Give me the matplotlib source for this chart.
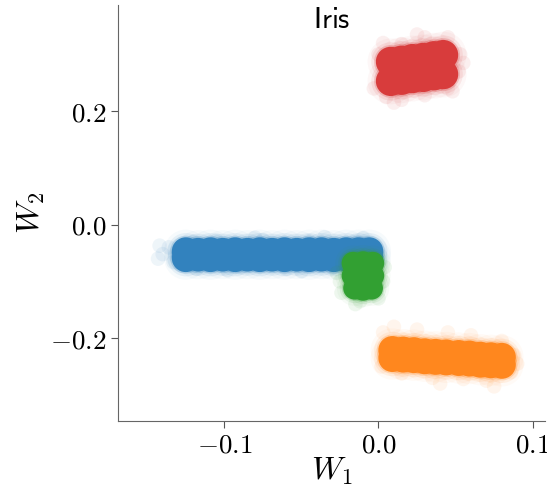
import numpy as np
import matplotlib
matplotlib.use("Agg")
import matplotlib.pyplot as plt
from matplotlib.ticker import FuncFormatter

plt.rcParams['mathtext.fontset'] = 'cm'

# dense part of each class cloud (W1, W2)
blue_core = [(-0.125, -0.047), (-0.117, -0.048), (-0.109, -0.047), (-0.101, -0.048),
             (-0.093, -0.047), (-0.085, -0.048), (-0.077, -0.047), (-0.069, -0.048),
             (-0.061, -0.047), (-0.053, -0.048), (-0.045, -0.047), (-0.037, -0.047),
             (-0.029, -0.048), (-0.021, -0.047), (-0.013, -0.047), (-0.006, -0.047),
             (-0.125, -0.059), (-0.117, -0.058), (-0.109, -0.059), (-0.101, -0.058),
             (-0.093, -0.059), (-0.085, -0.058), (-0.077, -0.059), (-0.069, -0.058),
             (-0.061, -0.059), (-0.053, -0.058), (-0.045, -0.059), (-0.037, -0.058),
             (-0.029, -0.059), (-0.021, -0.058), (-0.013, -0.059), (-0.006, -0.058)]
orange_core = [(0.009, -0.221), (0.016, -0.222), (0.023, -0.223), (0.030, -0.225),
               (0.037, -0.226), (0.044, -0.227), (0.052, -0.228), (0.059, -0.229),
               (0.066, -0.231), (0.073, -0.232), (0.080, -0.233),
               (0.009, -0.235), (0.016, -0.236), (0.023, -0.237), (0.030, -0.239),
               (0.037, -0.240), (0.044, -0.241), (0.052, -0.242), (0.059, -0.243),
               (0.066, -0.245), (0.073, -0.246), (0.080, -0.247)]
green_core = [(-0.0165, -0.068), (-0.0100, -0.067), (-0.0037, -0.068),
              (-0.0165, -0.090), (-0.0100, -0.091), (-0.0037, -0.090),
              (-0.0155, -0.112), (-0.0100, -0.114), (-0.0045, -0.112)]
red_core = [(0.008, 0.287), (0.015, 0.289), (0.022, 0.292), (0.029, 0.294),
            (0.036, 0.297), (0.042, 0.299),
            (0.008, 0.253), (0.015, 0.255), (0.022, 0.258), (0.029, 0.260),
            (0.036, 0.263), (0.042, 0.265)]

# sparse outer points of each cloud
blue_halo = [(-0.142, -0.037), (-0.140, -0.052), (-0.136, -0.040), (-0.133, -0.066),
             (-0.120, -0.030), (-0.105, -0.028), (-0.090, -0.075), (-0.075, -0.027),
             (-0.060, -0.078), (-0.045, -0.029), (-0.030, -0.076), (-0.015, -0.030),
             (-0.002, -0.040), (-0.118, -0.078), (-0.098, -0.080), (-0.050, -0.082),
             (-0.143, -0.060), (-0.128, -0.072), (-0.010, -0.024), (-0.080, -0.023),
             (-0.035, -0.022)]
orange_halo = [(0.003, -0.190), (0.010, -0.180), (0.025, -0.185), (0.045, -0.190),
               (0.060, -0.195), (0.080, -0.205), (0.088, -0.230), (0.086, -0.260),
               (0.070, -0.275), (0.055, -0.272), (0.035, -0.270), (0.015, -0.262),
               (0.002, -0.250), (0.040, -0.280), (0.075, -0.285), (0.090, -0.245)]
green_halo = [(-0.025, -0.100), (-0.024, -0.120), (-0.012, -0.135), (0.000, -0.130),
              (0.004, -0.075), (-0.020, -0.062), (-0.015, -0.140), (0.003, -0.100),
              (-0.027, -0.085)]
red_halo = [(-0.003, 0.240), (0.000, 0.300), (0.005, 0.225), (0.015, 0.220),
            (0.030, 0.228), (0.045, 0.240), (0.052, 0.270), (0.053, 0.300),
            (0.045, 0.330), (0.030, 0.330), (0.015, 0.318), (0.003, 0.320),
            (0.048, 0.235), (0.025, 0.335), (0.055, 0.285), (0.010, 0.215)]

classes = [
    (blue_core, blue_halo, '#3282be', 406),
    (orange_core, orange_halo, '#ff871e', 406),
    (green_core, green_halo, '#32a032', 270),
    (red_core, red_halo, '#d83c3c', 466),
]

fig = plt.figure(figsize=(5.47, 4.91), dpi=100)
ax = fig.add_axes([0.2157, 0.1426, 0.7806, 0.8472])

for core, halo, color, size in classes:
    hx, hy = np.array(halo).T
    cx, cy = np.array(core).T
    ax.scatter(hx, hy, s=110, color=color, alpha=0.08, edgecolors='none')
    ax.scatter(cx, cy, s=size * 2.4, color=color, alpha=0.04, edgecolors='none')
    ax.scatter(cx, cy, s=size * 1.7, color=color, alpha=0.09, edgecolors='none')
    ax.scatter(cx, cy, s=size * 1.25, color=color, alpha=0.22, edgecolors='none')
    ax.scatter(cx, cy, s=size, color=color, alpha=1.0, edgecolors='none')

ax.set_xlim(-0.169, 0.108)
ax.set_ylim(-0.346, 0.387)
ax.set_xticks([-0.1, 0.0, 0.1])
ax.set_yticks([-0.2, 0.0, 0.2])
fmt = FuncFormatter(lambda v, pos: r'$%.1f$' % v if abs(v) > 1e-9 else r'$0.0$')
ax.xaxis.set_major_formatter(fmt)
ax.yaxis.set_major_formatter(fmt)
ax.tick_params(labelsize=19.5, length=5, color='#555555')

for side in ['top', 'right']:
    ax.spines[side].set_visible(False)
for side in ['left', 'bottom']:
    ax.spines[side].set_color('#666666')

ax.set_xlabel(r'$W_1$', fontsize=23, labelpad=-2)
ax.set_ylabel(r'$W_2$', fontsize=23, labelpad=2)
ax.set_title(r'$\mathsf{Iris}$', fontsize=21, y=0.945, pad=0)

fig.savefig('out.png', dpi=100)
